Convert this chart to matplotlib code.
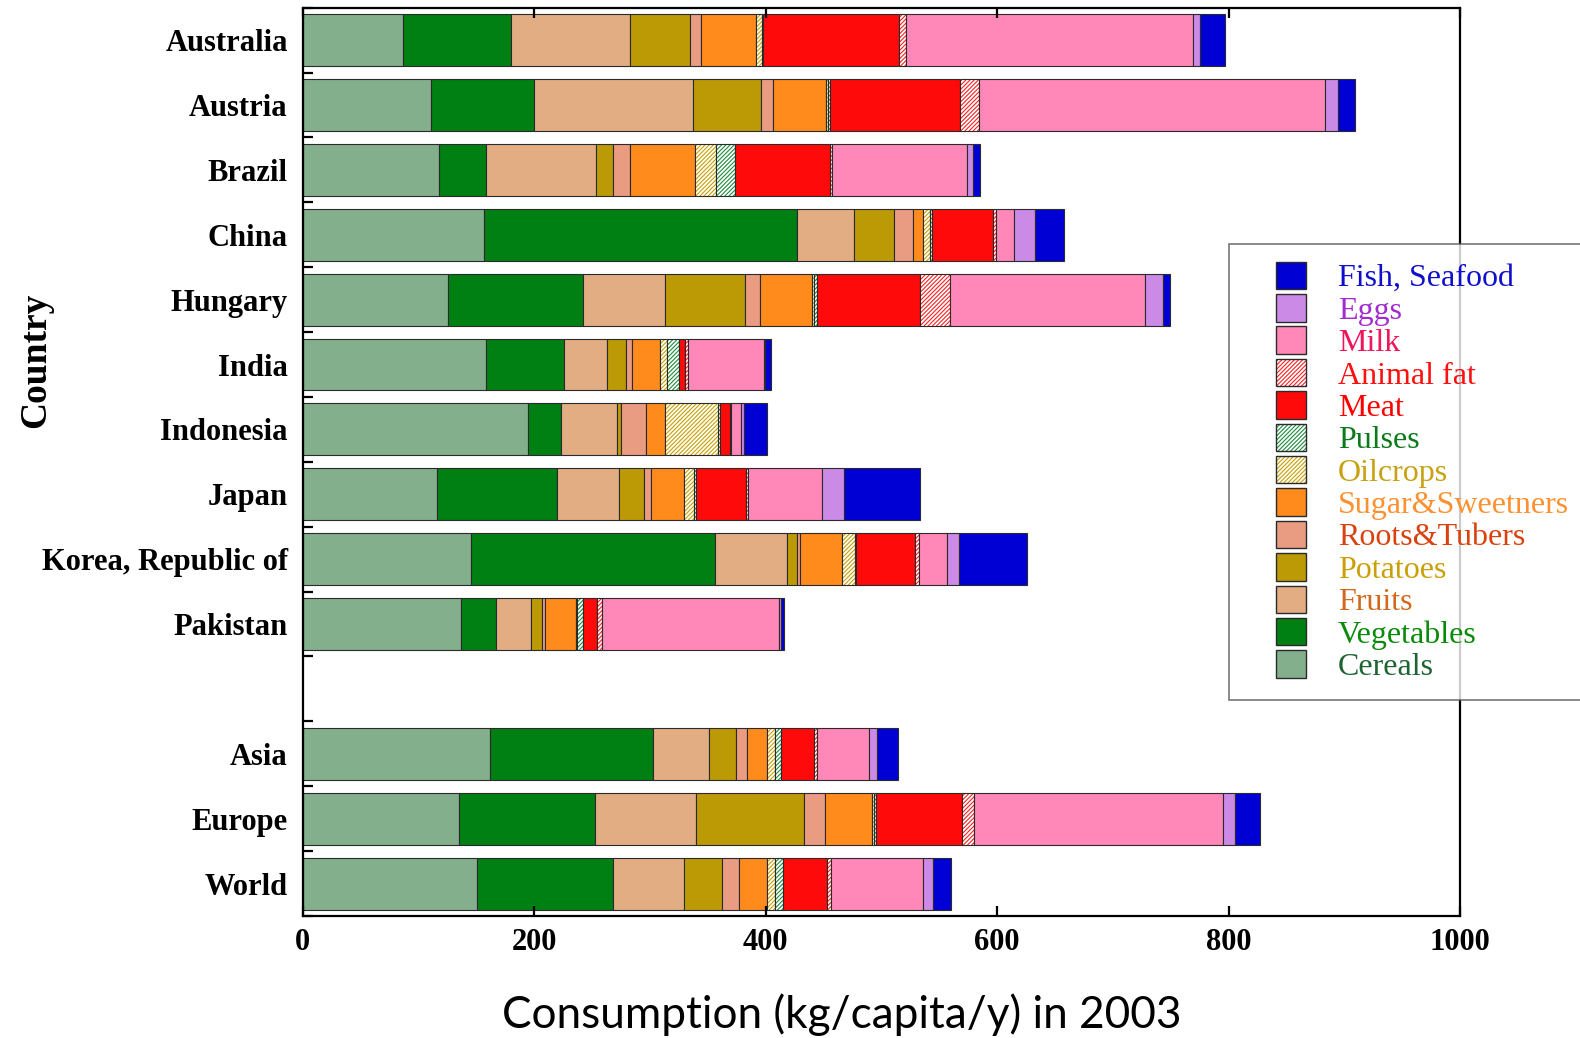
import matplotlib
matplotlib.use("Agg")
import matplotlib.pyplot as plt
import matplotlib.transforms as mtransforms
import numpy as np
from matplotlib.patches import Patch
from matplotlib.legend_handler import HandlerTuple

# ---------------- data ----------------
countries = ["Australia", "Austria", "Brazil", "China", "Hungary", "India",
             "Indonesia", "Japan", "Korea, Republic of", "Pakistan",
             "Asia", "Europe", "World"]
positions = [0, 1, 2, 3, 4, 5, 6, 7, 8, 9, 11, 12, 13]

cereals    = [87, 110.6, 118, 157, 125.5, 158, 195, 115.8, 145.4, 137, 162, 135.3, 151]
vegetables = [93, 89.5, 40.4, 270, 116.7, 68, 28.6, 103.6, 211, 30, 141, 117.2, 117]
fruits     = [102.5, 137.4, 95, 49, 71, 37, 48, 54, 62.2, 30, 48, 87.3, 61.4]
potatoes   = [52, 58.5, 15, 35, 69, 16.7, 3.2, 21.6, 8.6, 10, 23, 93, 32.5]
roots      = [10, 10.7, 14.6, 16.7, 13, 5, 22.2, 5.8, 2.9, 2.6, 9.7, 18.2, 15]
sugar      = [47, 45.2, 55.9, 8.3, 45, 24, 16.1, 28.3, 35.7, 26.3, 17.5, 40.6, 24.7]
oilcrops   = [5, 2.4, 18.2, 5.7, 1.5, 6.3, 45.8, 8.6, 11, 1, 7.3, 2, 6.7]
pulses     = [1, 1, 16.6, 2, 2.5, 10, 1.5, 2, 1.5, 5, 5.2, 2, 6.5]
meat       = [118, 112.7, 82, 53, 89, 5, 9.2, 43.2, 51, 12, 28, 74.3, 38.5]
animal_fat = [5.5, 16.2, 1.4, 2, 26.5, 2.6, 0.3, 1.6, 2.9, 4.8, 2.6, 10.3, 3.2]
milk       = [248, 299.2, 116.5, 16, 168, 66, 8.5, 64.6, 24.4, 153, 44.7, 214.6, 79.8]
eggs       = [6, 11.6, 5.7, 18, 16, 1, 3, 18.2, 10.4, 1.7, 7.6, 11.2, 7.9]
fish       = [22, 14.7, 6.2, 25, 5.5, 5, 20, 66.5, 58.5, 2.5, 17.8, 21.2, 16.2]

x_ticks = [0, 200, 400, 600, 800, 1000]

# (label, values, face colour, hatch colour or None, legend text colour)
series = [
    ("Cereals", cereals, "#84AF8D", None, "#1E6432"),
    ("Vegetables", vegetables, "#007F12", None, "#0A8A0A"),
    ("Fruits", fruits, "#E2AD83", None, "#D2691E"),
    ("Potatoes", potatoes, "#BB9A05", None, "#C9A006"),
    ("Roots&Tubers", roots, "#EA9C82", None, "#D9420F"),
    ("Sugar&Sweetners", sugar, "#FF8B1C", None, "#FF9030"),
    ("Oilcrops", oilcrops, "white", "#C8A000", "#C8A010"),
    ("Pulses", pulses, "white", "#1E8C3C", "#0A7A1A"),
    ("Meat", meat, "#FF0A0A", None, "#FF0000"),
    ("Animal fat", animal_fat, "white", "#FF2020", "#FF1010"),
    ("Milk", milk, "#FF88B8", None, "#F0145A"),
    ("Eggs", eggs, "#CA8AE6", None, "#A12BD0"),
    ("Fish, Seafood", fish, "#0000D4", None, "#1010CC"),
]

plt.rcParams["hatch.linewidth"] = 0.8
serif = "Liberation Serif"
edge = "#2a2a2a"
HATCH = "////////"

fig = plt.figure(figsize=(15.8, 10.38), dpi=100)
ax = fig.add_axes([302.7 / 1580, 1 - 916 / 1038, 1157.3 / 1580, 908.3 / 1038])

left = np.zeros(len(countries))
handles, labels, colors = [], [], []
for name, vals, face, hc, tc in series:
    vals = np.asarray(vals, dtype=float)
    if hc is None:
        ax.barh(positions, vals, left=left, height=0.8, color=face,
                edgecolor=edge, linewidth=0.8)
        h = (Patch(facecolor=face, edgecolor=edge, linewidth=1.0),)
    else:
        ax.barh(positions, vals, left=left, height=0.8, color="white",
                edgecolor=hc, hatch=HATCH, linewidth=0)
        ax.barh(positions, vals, left=left, height=0.8, fill=False,
                edgecolor=edge, linewidth=0.8)
        h = (Patch(facecolor="white", edgecolor=hc, hatch=HATCH, linewidth=0),
             Patch(fill=False, edgecolor=edge, linewidth=1.0))
    left += vals
    handles.append(h)
    labels.append(name)
    colors.append(tc)

ax.set_xlim(0, 1000)
ax.set_ylim(13.5, -0.5)
ax.set_xticks(x_ticks)
ax.set_xticklabels([str(v) for v in x_ticks])
ax.set_yticks(positions)
ax.set_yticklabels(countries)
ax.set_yticks(np.arange(-0.5, 14, 1.0), minor=True)

for lab in ax.get_xticklabels() + ax.get_yticklabels():
    lab.set_fontfamily(serif)
    lab.set_fontweight("bold")
    lab.set_fontsize(22)

# country names sit slightly above the bar centres in the original
shift = mtransforms.ScaledTranslation(0, 3 / 100, fig.dpi_scale_trans)
for lab in ax.get_yticklabels():
    lab.set_transform(lab.get_transform() + shift)

ax.tick_params(axis="x", which="major", direction="in", length=7, width=1.6,
               top=True, bottom=True, pad=9)
ax.tick_params(axis="y", which="major", length=0, pad=10.7)
ax.tick_params(axis="y", which="minor", direction="in", length=7, width=1.6,
               left=True, right=False)
for sp in ax.spines.values():
    sp.set_linewidth(1.6)

ax.set_ylabel("Country", fontsize=27, fontweight="bold", fontfamily=serif)
ax.yaxis.set_label_coords(-0.2158, 0.612)
ax.set_xlabel("Consumption (kg/capita/y) in 2003", fontsize=31.8, fontfamily="Lato")
ax.xaxis.set_label_coords(0.466, -0.085)

leg = ax.legend(handles[::-1], labels[::-1],
                handler_map={tuple: HandlerTuple(ndivide=1, xpad=0.92)},
                loc="upper left", bbox_to_anchor=(1229 / 1580, 1 - 244 / 1038),
                bbox_transform=fig.transFigure,
                prop={"family": serif, "size": 23},
                frameon=True, fancybox=False, edgecolor="#555555",
                borderpad=0.55, handlelength=1.86, handleheight=0.95,
                handletextpad=1.0, labelspacing=0.02, borderaxespad=0)
leg.get_frame().set_linewidth(1.2)
for t, c in zip(leg.get_texts(), colors[::-1]):
    t.set_color(c)

fig.savefig("out.png", dpi=100)
